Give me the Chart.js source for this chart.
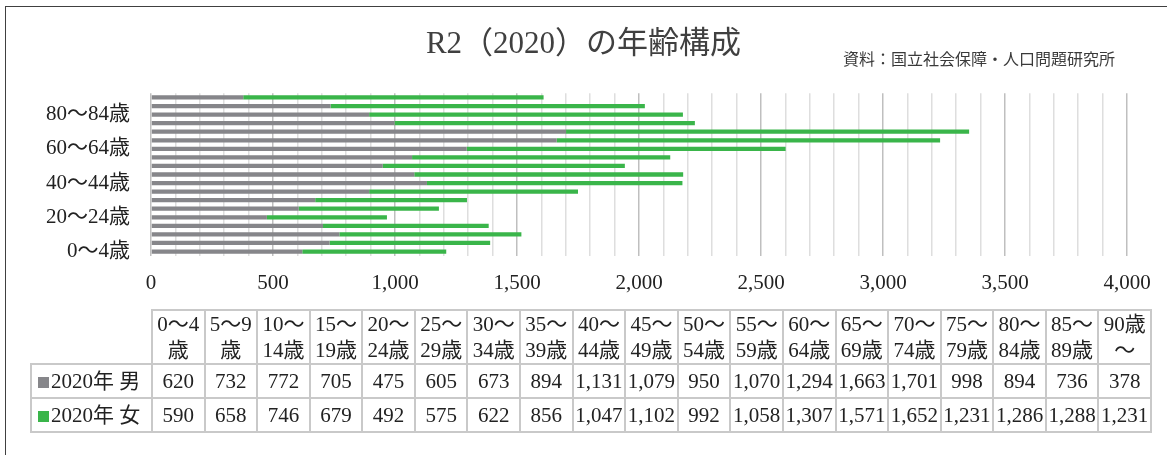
<!DOCTYPE html>
<html lang="ja">
<head>
<meta charset="utf-8">
<title>R2（2020）の年齢構成</title>
<script src="https://cdn.jsdelivr.net/npm/chart.js@4.4.1/dist/chart.umd.min.js"></script>
<style>
  html, body { margin: 0; padding: 0; background: #fff; }
  #cntr { position: relative; width: 1167px; height: 455px; overflow: hidden;
    font-family: 'Liberation Serif', 'Noto Sans CJK JP', serif; }
  #marco { position: absolute; left: 5px; top: 6px; width: 1200px; height: 500px;
    border-left: 1.5px solid #404040; border-top: 1.5px solid #404040; }
  #cntr_grafica { position: absolute; left: 0; top: 0; width: 1167px; height: 316px; }
  #fuente { position: absolute; left: 843px; top: 48px; font-family: 'Noto Sans CJK JP', sans-serif;
    font-size: 16px; line-height: 20px; color: #3a3a3a; white-space: nowrap; }
  #tabla { position: absolute; left: 30px; top: 309px; width: 1120px; border-collapse: collapse;
    table-layout: fixed; font-size: 21px; color: #222; }
  #tabla td, #tabla th { border: 2px solid #c9c9c9; padding: 0; text-align: center;
    font-weight: normal; white-space: nowrap; overflow: hidden; }
  #tabla thead th { height: 48px; line-height: 26px; }
  #tabla tbody td { height: 32px; line-height: 26px; }
  #tabla th.vacio { border-top: none; border-left: none; }
  #tabla td.serie { text-align: left; padding-left: 6px; }
  .marca { display: inline-block; width: 11px; height: 11px; margin-right: 2px; }
</style>
</head>
<body>
<div id="cntr">
  <div id="marco"></div>
  <div id="cntr_grafica"><canvas id="myChart"></canvas></div>
  <div id="fuente">資料：国立社会保障・人口問題研究所</div>
  <table id="tabla">
    <colgroup id="columnas"></colgroup>
    <thead><tr id="cabecera"></tr></thead>
    <tbody id="cuerpo"></tbody>
  </table>
</div>
<script>
  // Datos
  const edades = ['0〜4歳', '5〜9歳', '10〜14歳', '15〜19歳', '20〜24歳', '25〜29歳', '30〜34歳',
    '35〜39歳', '40〜44歳', '45〜49歳', '50〜54歳', '55〜59歳', '60〜64歳', '65〜69歳',
    '70〜74歳', '75〜79歳', '80〜84歳', '85〜89歳', '90歳〜'];
  const hombres = [620, 732, 772, 705, 475, 605, 673, 894, 1131, 1079, 950, 1070, 1294, 1663, 1701, 998, 894, 736, 378];
  const mujeres = [590, 658, 746, 679, 492, 575, 622, 856, 1047, 1102, 992, 1058, 1307, 1571, 1652, 1231, 1286, 1288, 1231];
  const series = ['2020年 男', '2020年 女'];
  const titulo = 'R2（2020）の年齢構成';
  // Colores
  const gris = '#86868a';
  const verde = '#3ab54a';

  const fuente = "'Liberation Serif', 'Noto Sans CJK JP', serif";

  // Tabla de datos
  function construir_tabla() {
    const columnas = document.getElementById('columnas');
    const cabecera = document.getElementById('cabecera');
    const cuerpo = document.getElementById('cuerpo');

    let col = document.createElement('col');
    col.style.width = '121px';
    columnas.appendChild(col);

    const vacio = document.createElement('th');
    vacio.className = 'vacio';
    cabecera.appendChild(vacio);

    edades.forEach(e => {
      const c = document.createElement('col');
      c.style.width = (999 / edades.length) + 'px';
      columnas.appendChild(c);
      const th = document.createElement('th');
      th.innerHTML = e.slice(0, 3) + '<br>' + e.slice(3);
      cabecera.appendChild(th);
    });

    [[series[0], hombres, gris], [series[1], mujeres, verde]].forEach(([nombre, valores, color]) => {
      const tr = document.createElement('tr');
      const td = document.createElement('td');
      td.className = 'serie';
      td.innerHTML = '<span class="marca" style="background:' + color + '"></span>' + nombre;
      tr.appendChild(td);
      valores.forEach(v => {
        const celda = document.createElement('td');
        celda.textContent = v.toLocaleString('en-US');
        tr.appendChild(celda);
      });
      cuerpo.appendChild(tr);
    });
  }

  // Grafica
  function mostrar_grafica() {
    const ctx = document.getElementById('myChart');
    new Chart(ctx, {
      type: 'bar',
      data: {
        labels: edades,
        datasets: [
          { label: series[0], data: hombres, backgroundColor: gris },
          { label: series[1], data: mujeres, backgroundColor: verde }
        ]
      },
      options: {
        indexAxis: 'y',
        responsive: true,
        maintainAspectRatio: false,
        animation: false,
        datasets: { bar: { categoryPercentage: 1, barPercentage: 0.5 } },
        layout: { padding: { top: 0, right: 40, bottom: 5, left: 40 } },
        plugins: {
          legend: { display: false },
          tooltip: { enabled: false },
          title: {
            display: true,
            text: titulo,
            color: '#404040',
            font: { family: fuente, size: 31, weight: 'normal' },
            padding: { top: 26, bottom: 30 }
          }
        },
        scales: {
          x: {
            stacked: true,
            min: 0,
            max: 4000,
            border: { display: false },
            grid: {
              drawTicks: false,
              lineWidth: 1.5,
              color: c => (c.tick && c.tick.value % 500 === 0) ? '#bfbfbf' : '#dedede'
            },
            ticks: {
              stepSize: 100,
              autoSkip: false,
              maxRotation: 0,
              padding: 15,
              color: '#222',
              font: { family: fuente, size: 21 },
              callback: v => v % 500 === 0 ? v.toLocaleString('en-US') : ''
            }
          },
          y: {
            stacked: true,
            reverse: true,
            border: { display: false },
            grid: { display: false, drawTicks: false },
            afterFit: scale => { scale.width = 111; },
            ticks: {
              autoSkip: false,
              padding: 21,
              color: '#222',
              font: { family: fuente, size: 21 },
              callback: (v, i) => i % 4 === 0 ? edades[i] : ''
            }
          }
        }
      }
    });
  }

  construir_tabla();
  mostrar_grafica();
</script>
</body>
</html>
